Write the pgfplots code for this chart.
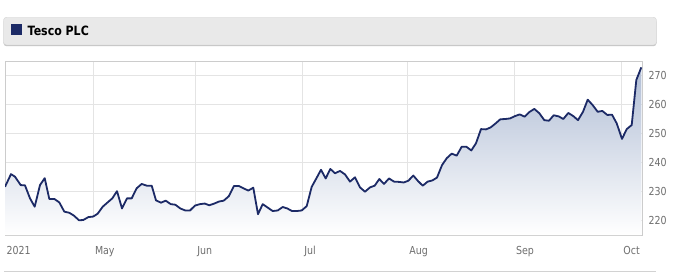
\documentclass[border=0pt]{standalone}
\usepackage{fontspec}
\setmainfont{DejaVu Sans}[FakeStretch=0.86]
\usepackage{pgfplots}
\pgfplotsset{compat=1.18}
\definecolor{navy}{RGB}{28,42,102}
\definecolor{gridc}{RGB}{228,228,228}
\definecolor{framec}{RGB}{204,204,204}
\definecolor{tickc}{RGB}{110,110,110}
\definecolor{hdrfill}{RGB}{233,233,233}
\definecolor{hdrdraw}{RGB}{210,210,210}
\definecolor{filltop}{RGB}{176,189,213}
\begin{document}
\begin{tikzpicture}
\useasboundingbox (0bp,0bp) rectangle (675bp,277bp);
\fill[white] (0bp,0bp) rectangle (675bp,277bp);
\fill[black!22, rounded corners=3bp] (3.5bp,230.8bp) rectangle (656.5bp,258bp);
\filldraw[fill=hdrfill, draw=hdrdraw, rounded corners=3bp] (3.5bp,232bp) rectangle (656.5bp,259.7bp);
\fill[navy] (11bp,242bp) rectangle (22bp,253bp);
\node[anchor=base west, inner sep=0pt, font=\bfseries\fontsize{12.8bp}{14bp}\selectfont] at (27.5bp,241.2bp) {Tesco PLC};
\draw[hdrdraw] (4bp,6bp) -- (656bp,6bp);
\begin{axis}[
  at={(5bp,216bp)}, anchor=north west,
  width=637bp, height=174bp, scale only axis,
  xmin=5, xmax=642, ymin=214.8, ymax=275.1,
  xtick={5,93.3,195.7,302.7,407.7,514.3,621.7},
  xticklabels={2021,May,Jun,Jul,Aug,Sep,Oct},
  ytick={220,230,240,250,260,270},
  yticklabel pos=right,
  major tick length=0pt,
  grid=major,
  major grid style={gridc, line width=0.9bp},
  axis line style={framec, line width=0.9bp},
  tick label style={font=\fontsize{11bp}{13bp}\selectfont, text=tickc},
  xticklabel style={anchor=base west, inner sep=0pt, xshift=1.5bp, yshift=-19.3bp},
  yticklabel style={anchor=west, inner sep=0pt, xshift=6.3bp},
  /pgf/number format/assume math mode=true,
]
\addplot[draw=none, top color=filltop, bottom color=white] coordinates {
(5,231.5)(11,235.9)(15,235)(20.7,232.1)(25,232)(30,227.5)(34.7,224.6)(40,232.1)(44.7,234.5)(49.3,227.3)(54.3,227.3)(59.3,226.1)(64.3,222.9)(69.3,222.5)(74,221.5)(79,219.9)(83.3,220)(88.3,221)(93.3,221.2)(97.7,222.2)(102.7,224.6)(107.3,226)(112.3,227.5)(117,230)(122,224)(127,227.5)(131.7,227.5)(136.7,231)(141.7,232.5)(146.7,231.9)(151.7,231.9)(156,226.8)(161,226)(165.7,226.7)(170.7,225.5)(175.3,225.3)(180.3,224)(185.3,223.3)(190,223.3)(195,225)(200,225.5)(204.7,225.7)(209.3,225.1)(214.3,225.7)(219,226.4)(223.7,226.7)(228.7,228.2)(234,231.8)(238.7,231.8)(243.3,231)(248.3,230.2)(253.3,231.2)(258,222)(262.7,225.5)(267.7,224.3)(272.7,223.1)(277.7,223.3)(282.7,224.5)(287.3,224)(292,223.1)(296.7,223.1)(301.7,223.3)(306.7,224.8)(311.7,231.5)(316,234.2)(321,237.4)(325.7,234.4)(330.3,237.7)(335,236.2)(340,237)(345,235.8)(350,233.3)(355,234.8)(360,231.3)(365,229.8)(370,231.3)(374.7,231.9)(379.3,234.2)(384,232.5)(389,234.4)(394,233.3)(399,233.2)(403.7,233)(408.3,233.6)(413.3,235.4)(418,233.5)(422.7,231.9)(427.7,233.3)(432.3,233.7)(437,234.7)(442,239)(446.7,241.4)(451.7,243)(456.7,242.3)(461.7,245.4)(466.3,245.4)(471.3,244.1)(476,246.6)(481,251.5)(486,251.4)(490.7,252.1)(495.7,253.5)(500.3,254.9)(505.3,255)(510,255.2)(515,256)(519.7,256.6)(524.7,255.8)(529.3,257.4)(534.3,258.5)(539.3,257)(544.3,254.6)(549,254.4)(553.7,256.3)(558.7,255.9)(563.3,255)(568.3,257.1)(573.3,256)(578,254.6)(583,257.5)(587.7,261.7)(592.7,259.8)(597.7,257.5)(602.3,257.8)(607.3,256.4)(612,256.5)(616.7,253.5)(622,248.1)(626.7,251.5)(631.7,252.9)(636.3,268.5)(641.3,272.9)
} \closedcycle;
\addplot[navy, line width=1.8bp, line join=round] coordinates {
(5,231.5)(11,235.9)(15,235)(20.7,232.1)(25,232)(30,227.5)(34.7,224.6)(40,232.1)(44.7,234.5)(49.3,227.3)(54.3,227.3)(59.3,226.1)(64.3,222.9)(69.3,222.5)(74,221.5)(79,219.9)(83.3,220)(88.3,221)(93.3,221.2)(97.7,222.2)(102.7,224.6)(107.3,226)(112.3,227.5)(117,230)(122,224)(127,227.5)(131.7,227.5)(136.7,231)(141.7,232.5)(146.7,231.9)(151.7,231.9)(156,226.8)(161,226)(165.7,226.7)(170.7,225.5)(175.3,225.3)(180.3,224)(185.3,223.3)(190,223.3)(195,225)(200,225.5)(204.7,225.7)(209.3,225.1)(214.3,225.7)(219,226.4)(223.7,226.7)(228.7,228.2)(234,231.8)(238.7,231.8)(243.3,231)(248.3,230.2)(253.3,231.2)(258,222)(262.7,225.5)(267.7,224.3)(272.7,223.1)(277.7,223.3)(282.7,224.5)(287.3,224)(292,223.1)(296.7,223.1)(301.7,223.3)(306.7,224.8)(311.7,231.5)(316,234.2)(321,237.4)(325.7,234.4)(330.3,237.7)(335,236.2)(340,237)(345,235.8)(350,233.3)(355,234.8)(360,231.3)(365,229.8)(370,231.3)(374.7,231.9)(379.3,234.2)(384,232.5)(389,234.4)(394,233.3)(399,233.2)(403.7,233)(408.3,233.6)(413.3,235.4)(418,233.5)(422.7,231.9)(427.7,233.3)(432.3,233.7)(437,234.7)(442,239)(446.7,241.4)(451.7,243)(456.7,242.3)(461.7,245.4)(466.3,245.4)(471.3,244.1)(476,246.6)(481,251.5)(486,251.4)(490.7,252.1)(495.7,253.5)(500.3,254.9)(505.3,255)(510,255.2)(515,256)(519.7,256.6)(524.7,255.8)(529.3,257.4)(534.3,258.5)(539.3,257)(544.3,254.6)(549,254.4)(553.7,256.3)(558.7,255.9)(563.3,255)(568.3,257.1)(573.3,256)(578,254.6)(583,257.5)(587.7,261.7)(592.7,259.8)(597.7,257.5)(602.3,257.8)(607.3,256.4)(612,256.5)(616.7,253.5)(622,248.1)(626.7,251.5)(631.7,252.9)(636.3,268.5)(641.3,272.9)
};
\end{axis}
\end{tikzpicture}
\end{document}
